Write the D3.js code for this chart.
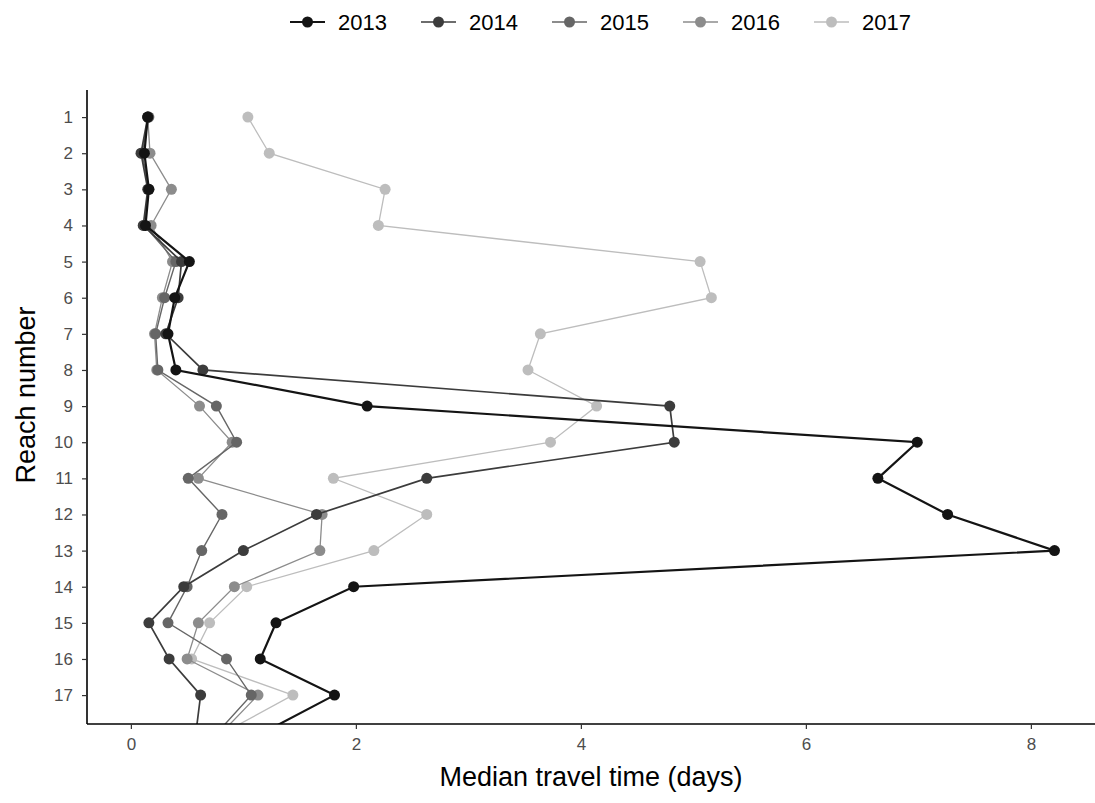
<!DOCTYPE html>
<html lang="en">
	<head>
		<meta charset="utf-8">
    <title>Median travel time by reach</title>
		<script type="text/javascript" src="https://d3js.org/d3.v7.min.js"></script>
    <style>
    body {
      margin: 0;
      background: white;
      font-family: Arial, "Liberation Sans", sans-serif;
    }
    </style>
	</head>

	<body>
		<script type="text/javascript">

// reach numbers go down the y axis, 18 is cut off by the panel
var reaches = d3.range(1, 19);
var years = ["2013", "2014", "2015", "2016", "2017"];

var xTicks = [0, 2, 4, 6, 8];
var yTicks = d3.range(1, 18);

// median travel time (days) for every reach, one list per year
var t2013 = [0.15, 0.12, 0.16, 0.13, 0.52, 0.39, 0.33, 0.40, 2.10, 6.99, 6.64, 7.26, 8.21, 1.98, 1.29, 1.15, 1.81, 1.20];
var t2014 = [0.15, 0.09, 0.15, 0.11, 0.45, 0.42, 0.31, 0.64, 4.79, 4.83, 2.63, 1.65, 1.00, 0.47, 0.16, 0.34, 0.62, 0.58];
var t2015 = [0.16, 0.10, 0.16, 0.12, 0.40, 0.30, 0.22, 0.24, 0.76, 0.94, 0.51, 0.81, 0.63, 0.50, 0.33, 0.85, 1.07, 0.78];
var t2016 = [0.15, 0.17, 0.36, 0.18, 0.37, 0.28, 0.21, 0.23, 0.61, 0.90, 0.60, 1.70, 1.68, 0.92, 0.60, 0.50, 1.13, 0.82];
var t2017 = [1.04, 1.23, 2.26, 2.20, 5.06, 5.16, 3.64, 3.53, 4.14, 3.73, 1.80, 2.63, 2.16, 1.03, 0.70, 0.54, 1.44, 0.85];

var values = [t2013, t2014, t2015, t2016, t2017];
var colors = ["#141414", "#3c3c3c", "#666666", "#8c8c8c", "#bdbdbd"];
var widths = [2.2, 1.7, 1.4, 1.3, 1.3];

drawChart();

function drawChart() {

  var width = 1095, height = 803;
  var pLeft = 87, pRight = 1095, pTop = 90, pBottom = 724;

  var svg = d3.select("body")
              .append("svg")
              .attr("width", width)
              .attr("height", height);

  var x = d3.scaleLinear().domain([-0.39, 8.57]).range([pLeft, pRight]);
  var y = d3.scaleLinear().domain([0.25, 17.8]).range([pTop, pBottom]);

  // clip the lines to the panel
  svg.append("clipPath").attr("id", "panel")
    .append("rect")
    .attr("x", pLeft).attr("y", pTop)
    .attr("width", pRight - pLeft).attr("height", pBottom - pTop);

  var series = years.map(function(yr, i){
    return { year: yr, color: colors[i], width: widths[i],
             points: reaches.map(function(r, j){ return [values[i][j], r]; }) };
  });

  var line = d3.line()
               .x(function(d){ return x(d[0]); })
               .y(function(d){ return y(d[1]); });

  var g = svg.append("g").attr("clip-path", "url(#panel)");

  // draw the lightest year first so 2013 sits on top
  series.slice().reverse().forEach(function(s){
    g.append("path")
      .datum(s.points)
      .attr("fill", "none")
      .attr("stroke", s.color)
      .attr("stroke-width", s.width)
      .attr("d", line);

    g.selectAll(null)
      .data(s.points)
      .enter().append("circle")
      .attr("cx", function(d){ return x(d[0]); })
      .attr("cy", function(d){ return y(d[1]); })
      .attr("r", 5.5)
      .attr("fill", s.color);
  });

  // axes
  var xAxis = svg.append("g")
    .attr("transform", "translate(0," + pBottom + ")")
    .call(d3.axisBottom(x).tickValues(xTicks).tickSize(5).tickPadding(9).tickFormat(d3.format("d")));
  xAxis.select(".domain").attr("stroke-width", 1.6).attr("d", "M" + pLeft + ",0H" + pRight);

  var yAxis = svg.append("g")
    .attr("transform", "translate(" + pLeft + ",0)")
    .call(d3.axisLeft(y).tickValues(yTicks).tickSize(5).tickPadding(9).tickFormat(d3.format("d")));
  yAxis.select(".domain").attr("stroke-width", 1.6).attr("d", "M0," + pTop + "V" + pBottom);

  [xAxis, yAxis].forEach(function(a){
    a.attr("font-size", 17).attr("font-family", "Arial, 'Liberation Sans', sans-serif");
    a.selectAll(".tick text").attr("fill", "#4d4d4d");
    a.selectAll(".tick line").attr("stroke", "#333").attr("stroke-width", 1.2);
  });

  svg.append("text")
    .attr("x", 591)
    .attr("y", 786)
    .attr("text-anchor", "middle")
    .attr("font-size", 27)
    .attr("fill", "black")
    .text("Median travel time (days)");

  svg.append("text")
    .attr("transform", "translate(35,395) rotate(-90)")
    .attr("text-anchor", "middle")
    .attr("font-size", 27)
    .attr("fill", "black")
    .text("Reach number");

  // legend across the top
  var legend = svg.append("g").attr("transform", "translate(290,22)");
  series.forEach(function(s, i){
    var item = legend.append("g").attr("transform", "translate(" + (i * 131) + ",0)");
    item.append("line")
      .attr("x1", 0).attr("x2", 35)
      .attr("stroke", s.color)
      .attr("stroke-width", s.width);
    item.append("circle")
      .attr("cx", 17.5).attr("cy", 0).attr("r", 5.5)
      .attr("fill", s.color);
    item.append("text")
      .attr("x", 48).attr("y", 8)
      .attr("font-size", 22)
      .attr("fill", "black")
      .text(s.year);
  });
}

    </script>
  </body>

</html>
